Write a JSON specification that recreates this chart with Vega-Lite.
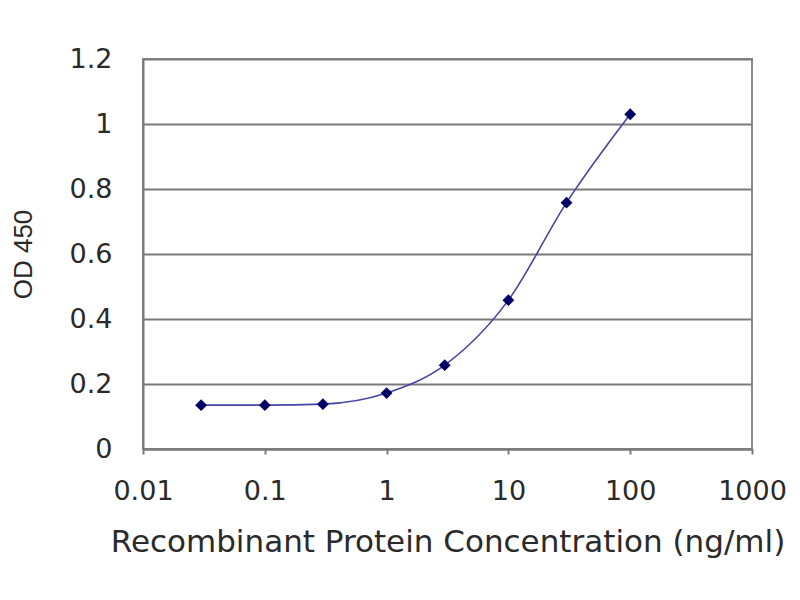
{
  "$schema": "https://vega.github.io/schema/vega-lite/v6.json",
  "width": 609,
  "height": 390,
  "autosize": {"type": "none"},
  "padding": {"left": 143, "top": 59, "right": 48, "bottom": 151},
  "background": "white",
  "config": {
    "view": {"stroke": "#8a8a8a", "strokeWidth": 2},
    "font": "DejaVu Sans",
    "axis": {
      "labelFont": "DejaVu Sans",
      "titleFont": "DejaVu Sans",
      "labelFontSize": 27,
      "titleFontSize": 31,
      "labelColor": "#2a2a2a",
      "titleColor": "#2a2a2a",
      "titleFontWeight": "normal",
      "domainColor": "#7a7a7a",
      "domainWidth": 2,
      "gridColor": "#7a7a7a",
      "gridWidth": 2,
      "tickColor": "#7a7a7a",
      "tickWidth": 2
    }
  },
  "data": {
    "values": [
      {"conc": 0.03, "od": 0.135},
      {"conc": 0.1, "od": 0.135},
      {"conc": 0.3, "od": 0.138},
      {"conc": 1, "od": 0.172},
      {"conc": 3, "od": 0.258},
      {"conc": 10, "od": 0.458},
      {"conc": 30, "od": 0.758},
      {"conc": 100, "od": 1.03}
    ]
  },
  "encoding": {
    "x": {
      "field": "conc",
      "type": "quantitative",
      "scale": {"type": "log", "domain": [0.01, 1000], "nice": false},
      "axis": {
        "title": "Recombinant Protein Concentration (ng/ml)",
        "values": [0.01, 0.1, 1, 10, 100, 1000],
        "labelExpr": "format(datum.value, '~g')",
        "grid": false,
        "tickSize": 5,
        "labelPadding": 24,
        "titlePadding": 23,
        "labelFlush": false
      }
    },
    "y": {
      "field": "od",
      "type": "quantitative",
      "scale": {"domain": [0, 1.2], "nice": false},
      "axis": {
        "title": "OD 450",
        "titleFont": "Liberation Sans",
        "titleFontSize": 26,
        "values": [0, 0.2, 0.4, 0.6, 0.8, 1, 1.2],
        "format": ".1~f",
        "ticks": false,
        "labelPadding": 31,
        "titlePadding": 33,
        "grid": true
      }
    }
  },
  "layer": [
    {
      "mark": {"type": "line", "interpolate": "monotone", "color": "#4545a5", "strokeWidth": 1.6}
    },
    {
      "mark": {"type": "point", "shape": "diamond", "filled": true, "size": 140, "color": "#000066", "opacity": 1}
    }
  ]
}
